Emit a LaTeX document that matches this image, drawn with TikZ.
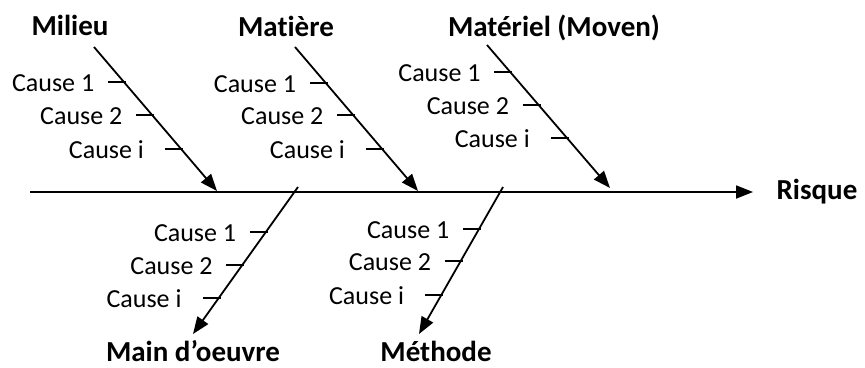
\documentclass[tikz,border=0pt]{standalone}
\usepackage{fontspec}
\setmainfont{Carlito}[Ligatures=NoCommon]
\usetikzlibrary{arrows.meta}

\tikzset{
  bone/.style={line width=1.8pt, -{Triangle[length=17pt,width=13pt]}},
  tickline/.style={line width=1.8pt},
  category/.style={font=\bfseries\fontsize{29}{34}\selectfont, anchor=base, inner sep=0pt},
  cause/.style={font=\fontsize{26}{30}\selectfont, anchor=base east, inner sep=0pt}
}

% three causes on one branch: name, then the three positions
\newcommand{\causes}[4]{%
  \foreach \p/\t/\g [count=\i] in {#2/1/29.5pt,#3/2/29.5pt,#4/i/37pt}{%
    \path (#1-start) -- (#1-tip) coordinate[pos=\p] (#1-\i);
    \draw[tickline] ([xshift=-16pt]#1-\i) -- ([xshift=2pt]#1-\i);
    \node[cause] (#1-cause\i) at ([xshift=-\g, yshift=-9.5pt]#1-\i) {Cause \t};
  }}

\begin{document}
\begin{tikzpicture}[x=1pt, y=-1pt]
\useasboundingbox (0,0) rectangle (865,367);
% Spine
\coordinate (tail) at (30,192);
\coordinate (head) at (753,192);
\draw[bone] (tail) -- (head);
\node[category] (risque) at (817,199) {Risque};
% Upper branches
\coordinate (mil-start) at (94,47);
\coordinate (mil-tip) at (217,191);
\coordinate (mat-start) at (295,47);
\coordinate (mat-tip) at (418,191);
\coordinate (mov-start) at (487,45);
\coordinate (mov-tip) at (610,188);
\draw[bone] (mil-start) -- (mil-tip);
\draw[bone] (mat-start) -- (mat-tip);
\draw[bone] (mov-start) -- (mov-tip);
\node[category] (milieu) at (70,35) {Milieu};
\node[category] (matiere) at (286,36) {Matière};
\node[category] (materiel) at (554,36) {Matériel (Moven)};
% Lower branches
\coordinate (mo-start) at (298,187);
\coordinate (mo-tip) at (193,334);
\coordinate (met-start) at (503,187);
\coordinate (met-tip) at (419,334);
\draw[bone] (mo-start) -- (mo-tip);
\draw[bone] (met-start) -- (met-tip);
\node[category] (main) at (193,361) {Main d’oeuvre};
\node[category] (methode) at (436,361) {Méthode};
% Causes
\causes{mil}{0.243}{0.472}{0.708}
\causes{mat}{0.25}{0.472}{0.708}
\causes{mov}{0.189}{0.42}{0.65}
\causes{mo}{0.306}{0.531}{0.755}
\causes{met}{0.286}{0.503}{0.735}
\end{tikzpicture}
\end{document}
